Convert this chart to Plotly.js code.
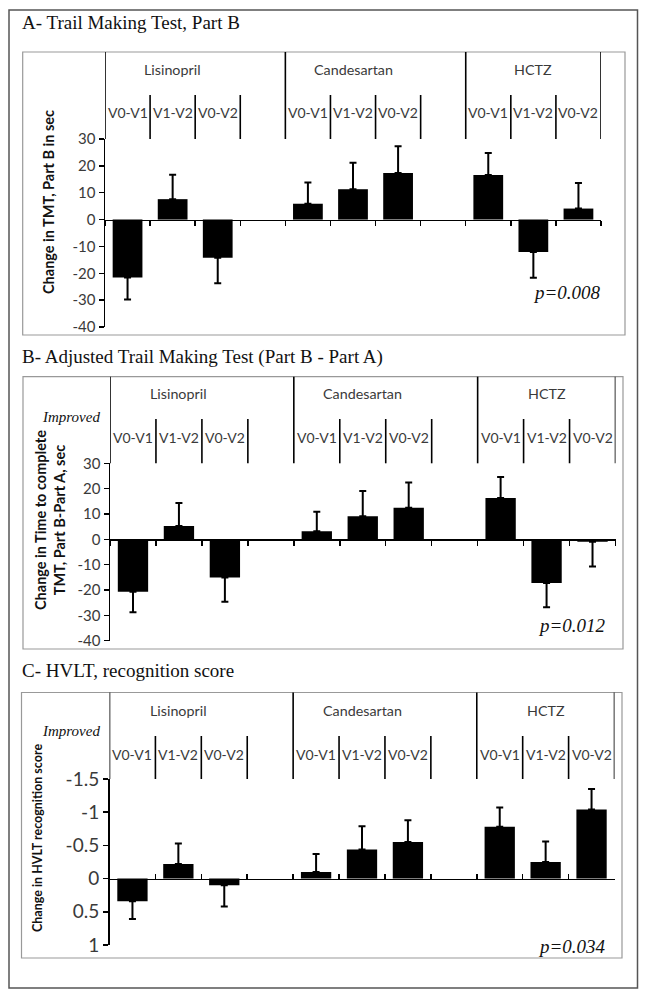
<!DOCTYPE html>
<html><head><meta charset="utf-8">
<script src="https://cdn.plot.ly/plotly-3.0.1.min.js"></script>
<style>html,body{margin:0;padding:0;background:#fff}</style>
</head><body>
<div id="chart" style="width:645px;height:998px"></div>
<script>
// ---------------- data ----------------
const groups = ["Lisinopril", "Candesartan", "HCTZ"];
const intervals = ["V0-V1", "V1-V2", "V0-V2"];

// A - Trail Making Test, Part B (sec)
const tmtB_change = [-21.6, 7.6, -14.2, 5.9, 11.3, 17.3, 16.6, -12.1, 4.1];
const tmtB_se     = [8.2, 9.1, 9.5, 7.9, 9.9, 10.0, 8.2, 9.6, 9.5];

// B - Adjusted Trail Making Test (Part B - Part A) (sec)
const tmtBA_change = [-20.7, 5.3, -15.1, 3.2, 9.1, 12.5, 16.3, -17.2, -1.0];
const tmtBA_se     = [8.1, 9.0, 9.5, 7.7, 10.0, 9.9, 8.3, 9.6, 9.7];

// C - HVLT recognition score
const hvlt_change = [0.34, -0.22, 0.10, -0.10, -0.44, -0.55, -0.78, -0.25, -1.04];
const hvlt_se     = [0.27, 0.31, 0.32, 0.27, 0.35, 0.33, 0.29, 0.31, 0.31];

const tmtTicks  = [-40, -30, -20, -10, 0, 10, 20, 30];
const hvltTicks = [-1.5, -1, -0.5, 0, 0.5, 1];
const pValues = ["p=0.008", "p=0.012", "p=0.034"];

// ---------------- helpers ----------------
const W = 645, H = 998;
const px = x => x / W, py = y => 1 - y / H;

const categories = [];
groups.forEach((g, gi) => {
  intervals.forEach(iv => categories.push(g + " " + iv));
  if (gi < groups.length - 1) categories.push(" ".repeat(gi + 1));
});
function pad(arr) {
  const out = []; let k = 0;
  groups.forEach((g, gi) => {
    intervals.forEach(() => out.push(arr[k++]));
    if (gi < groups.length - 1) out.push(null);
  });
  return out;
}

const SANS = "Lato, 'Open Sans', sans-serif";
const SERIF = "'Liberation Serif', 'DejaVu Serif', serif";
const TXT = "#3a3a3a";

const panels = [
  { title: "A- Trail Making Test, Part B", titleY: 23, box: [22.7, 52, 625, 335],
    xd: [105, 601], yd: [139, 327], range: [-40, 30], ticks: tmtTicks, tickSize: 15,
    vals: tmtB_change, se: tmtB_se, grpY: 70, subY: 112, subTop: 95,
    ytitle: "Change in TMT, Part B in sec", ytX: 49, ytY: 202, ytSize: 14.5,
    improved: null, pX: 603, pY: 292, xticks: "outside" },
  { title: "B- Adjusted Trail Making Test (Part B - Part A)", titleY: 357, box: [23, 376.7, 623, 649],
    xd: [110, 615.5], yd: [463.3, 640.7], range: [-40, 30], ticks: tmtTicks, tickSize: 15,
    vals: tmtBA_change, se: tmtBA_se, grpY: 393, subY: 437, subTop: 419,
    ytitle: "Change in Time to complete<br>TMT, Part B-Part A, sec", ytX: 50, ytY: 520, ytSize: 14.5,
    improved: 417, pX: 608, pY: 625, xticks: "outside" },
  { title: "C- HVLT, recognition score", titleY: 670, box: [21.5, 692.5, 622, 958],
    xd: [109.5, 614.5], yd: [779, 945], range: [1, -1.5], ticks: hvltTicks, tickSize: 19,
    vals: hvlt_change, se: hvlt_se, grpY: 710, subY: 754, subTop: 736,
    ytitle: "Change in HVLT recognition score", ytX: 37, ytY: 838, ytSize: 12.5,
    improved: 731, pX: 608, pY: 946, xticks: "inside" }
];

const data = [], shapes = [], annotations = [];
const layout = {
  width: W, height: H, margin: { l: 0, r: 0, t: 0, b: 0 },
  paper_bgcolor: "#fff", plot_bgcolor: "rgba(0,0,0,0)",
  showlegend: false, hovermode: false, bargap: 0.34,
  font: { family: SANS, color: TXT }
};

// outer frame
shapes.push({ type: "rect", xref: "paper", yref: "paper", x0: px(9), x1: px(637.5), y0: py(10), y1: py(988),
  line: { color: "#555", width: 1.5 } });

panels.forEach((p, i) => {
  const n = i === 0 ? "" : String(i + 1);
  const xa = "x" + n, ya = "y" + n;
  const yDom = [py(p.yd[1]), py(p.yd[0])];
  const xDom = [px(p.xd[0]), px(p.xd[1])];
  const frac = (0 - p.range[0]) / (p.range[1] - p.range[0]);
  const zeroPos = yDom[0] + frac * (yDom[1] - yDom[0]);

  const v = pad(p.vals), s = pad(p.se);
  data.push({
    type: "bar", x: categories, y: v, xaxis: xa, yaxis: ya,
    marker: { color: "#000", line: { width: 0 } },
    error_y: { type: "data", symmetric: false, visible: true,
      array: v.map((val, k) => val === null ? null : (val >= 0 ? s[k] : 0)),
      arrayminus: v.map((val, k) => val === null ? null : (val < 0 ? s[k] : 0)),
      color: "#000", thickness: 2, width: 3.5 }
  });

  layout["xaxis" + n] = {
    domain: xDom, anchor: "free", position: zeroPos,
    type: "category", categoryorder: "array", categoryarray: categories,
    range: [-0.5, categories.length - 0.5],
    showline: true, linecolor: "#000", linewidth: 1.5,
    ticks: p.xticks, tickson: "boundaries", ticklen: 5, tickwidth: 1.5, tickcolor: "#000",
    showticklabels: false, showgrid: false, zeroline: false, fixedrange: true
  };
  layout["yaxis" + n] = {
    domain: yDom, anchor: xa, range: p.range,
    tickvals: p.ticks, ticktext: p.ticks.map(String),
    showline: true, linecolor: "#000", linewidth: 1.5,
    ticks: "outside", ticklen: 5, tickwidth: 1.5, tickcolor: "#000",
    tickfont: { family: SANS, size: p.tickSize, color: TXT },
    showgrid: false, zeroline: false, fixedrange: true
  };

  // panel box
  shapes.push({ type: "rect", xref: "paper", yref: "paper",
    x0: px(p.box[0]), x1: px(p.box[2]), y0: py(p.box[3]), y1: py(p.box[1]),
    line: { color: "#999", width: 1.2 } });

  // group divider lines (tall) and interval divider lines (short)
  const nPer = intervals.length;
  const tall = [-0.5], short = [];
  groups.forEach((g, gi) => {
    const start = gi * (nPer + 1);
    for (let k = 1; k < nPer; k++) short.push(start + k - 0.5);
    if (gi < groups.length - 1) { short.push(start + nPer - 0.5); tall.push(start + nPer + 0.5); }
    else tall.push(start + nPer - 0.5);
  });
  tall.forEach(b => shapes.push({ type: "line", xref: xa, yref: "paper", x0: b, x1: b,
    y0: yDom[1], y1: py(p.box[1]), line: { color: "#000", width: 1.6 } }));
  short.forEach(b => shapes.push({ type: "line", xref: xa, yref: "paper", x0: b, x1: b,
    y0: yDom[1], y1: py(p.subTop), line: { color: "#000", width: 1.6 } }));

  // headers
  groups.forEach((g, gi) => {
    annotations.push({ xref: xa, yref: "paper", x: categories[gi * (nPer + 1) + 1], y: py(p.grpY),
      text: g, showarrow: false, xanchor: "center", yanchor: "middle",
      font: { family: SANS, size: 14.3, color: TXT } });
    intervals.forEach((iv, k) => {
      annotations.push({ xref: xa, yref: "paper", x: categories[gi * (nPer + 1) + k], y: py(p.subY),
        text: iv, showarrow: false, xanchor: "center", yanchor: "middle",
        font: { family: SANS, size: 14, color: TXT } });
    });
  });

  // panel title
  annotations.push({ xref: "paper", yref: "paper", x: px(20), y: py(p.titleY), text: p.title,
    showarrow: false, xanchor: "left", yanchor: "middle",
    font: { family: SERIF, size: 19, color: "#111" } });
  // y title
  annotations.push({ xref: "paper", yref: "paper", x: px(p.ytX), y: py(p.ytY), text: "<b>" + p.ytitle + "</b>",
    showarrow: false, textangle: -90, xanchor: "center", yanchor: "middle",
    font: { family: SANS, size: p.ytSize, color: "#111" } });
  // improved
  if (p.improved !== null) annotations.push({ xref: "paper", yref: "paper", x: px(102), y: py(p.improved),
    text: "<i>Improved</i>", showarrow: false, xanchor: "right", yanchor: "middle",
    font: { family: SERIF, size: 15, color: "#111" } });
  // p value
  annotations.push({ xref: "paper", yref: "paper", x: px(p.pX), y: py(p.pY), text: "<i>" + pValues[i] + "</i>",
    showarrow: false, xanchor: "right", yanchor: "middle",
    font: { family: SERIF, size: 19, color: "#111" } });
});

layout.shapes = shapes;
layout.annotations = annotations;
Plotly.newPlot("chart", data, layout, { staticPlot: true, displayModeBar: false });
</script>
</body></html>
